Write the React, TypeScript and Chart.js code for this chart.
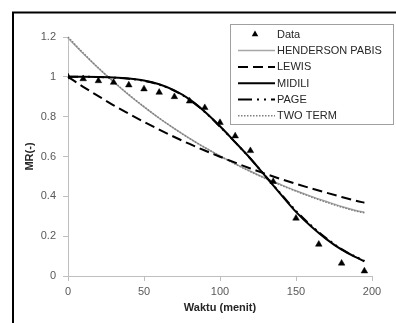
import React, { useEffect, useRef } from "react";
import { Chart, registerables } from "chart.js";

Chart.register(...registerables);

// Observed data
const dataT = [0, 10, 20, 30, 40, 50, 60, 70, 80, 90, 100, 110, 120, 135, 150, 165, 180, 195];
const dataMR = [1.0, 0.99, 0.98, 0.972, 0.959, 0.939, 0.922, 0.9, 0.878, 0.845, 0.77, 0.703, 0.629, 0.474, 0.29, 0.159, 0.064, 0.025];

// Model curves
const modelT = [0, 10, 20, 30, 40, 50, 60, 70, 80, 90, 100, 110, 120, 130, 140, 150, 160, 170, 180, 190, 195];
const hendersonPabis = [1.195, 1.117, 1.043, 0.974, 0.909, 0.849, 0.792, 0.74, 0.691, 0.645, 0.603, 0.563, 0.526, 0.491, 0.459, 0.428, 0.4, 0.374, 0.349, 0.328, 0.32];
const lewis = [1.0, 0.95, 0.903, 0.857, 0.815, 0.774, 0.735, 0.698, 0.663, 0.63, 0.599, 0.569, 0.54, 0.513, 0.487, 0.463, 0.44, 0.418, 0.397, 0.377, 0.368];
const midili = [1.0, 1.0, 0.999, 0.997, 0.992, 0.982, 0.963, 0.932, 0.887, 0.825, 0.752, 0.672, 0.59, 0.5, 0.41, 0.322, 0.248, 0.185, 0.132, 0.092, 0.074];
const page = [1.0, 1.0, 0.999, 0.996, 0.99, 0.98, 0.961, 0.93, 0.885, 0.824, 0.75, 0.671, 0.589, 0.501, 0.413, 0.327, 0.253, 0.189, 0.135, 0.094, 0.076];
const twoTerm = [1.2, 1.12, 1.045, 0.976, 0.911, 0.85, 0.793, 0.74, 0.69, 0.645, 0.602, 0.562, 0.524, 0.489, 0.456, 0.426, 0.397, 0.37, 0.346, 0.325, 0.318];

const xTicks = [0, 50, 100, 150, 200];
const yTicks = [0, 0.2, 0.4, 0.6, 0.8, 1, 1.2];

const legendLabels = ["Data", "HENDERSON PABIS", "LEWIS", "MIDILI", "PAGE", "TWO TERM"];

const FONT = "'Liberation Sans', Arial, sans-serif";

const pts = (xs: number[], ys: number[]) => xs.map((x, i) => ({ x, y: ys[i] }));

const styles = {
  data: { color: "#000000" },
  henderson: { color: "#a6a6a6", width: 1.5, dash: [] as number[] },
  lewis: { color: "#000000", width: 2, dash: [10, 5] },
  midili: { color: "#000000", width: 2, dash: [] as number[] },
  page: { color: "#000000", width: 2, dash: [10, 4, 2, 4, 2, 4] },
  twoTerm: { color: "#7f7f7f", width: 1.5, dash: [1.5, 1.5] },
};

const framePlugin = {
  id: "frame",
  afterDraw(chart: any) {
    const ctx = chart.ctx;
    ctx.save();
    ctx.strokeStyle = "#000";
    ctx.lineWidth = 2;
    ctx.beginPath();
    ctx.moveTo(13, 400);
    ctx.lineTo(13, 12.5);
    ctx.lineTo(400, 12.5);
    ctx.stroke();
    ctx.restore();
  },
};

const legendPlugin = {
  id: "customLegend",
  afterDraw(chart: any) {
    const ctx = chart.ctx;
    ctx.save();
    const bx = 230.5, by = 24.5, bw = 163, bh = 100;
    ctx.fillStyle = "#fff";
    ctx.fillRect(bx, by, bw, bh);
    ctx.strokeStyle = "#a0a0a0";
    ctx.lineWidth = 1;
    ctx.setLineDash([]);
    ctx.strokeRect(bx, by, bw, bh);
    const items = [
      { kind: "point" },
      { kind: "line", s: styles.henderson },
      { kind: "line", s: styles.lewis },
      { kind: "line", s: styles.midili },
      { kind: "line", s: { ...styles.page, dash: [14, 5, 2, 5, 2, 5] } },
      { kind: "line", s: styles.twoTerm },
    ];
    const x0 = 238, x1 = 275;
    items.forEach((it: any, i: number) => {
      const y = 34.3 + i * 16.3;
      if (it.kind === "point") {
        ctx.fillStyle = "#000";
        ctx.beginPath();
        const cx = 255, r = 3.8;
        ctx.moveTo(cx, y - r);
        ctx.lineTo(cx + r * 0.866, y + r * 0.5);
        ctx.lineTo(cx - r * 0.866, y + r * 0.5);
        ctx.closePath();
        ctx.fill();
      } else {
        ctx.strokeStyle = it.s.color;
        ctx.lineWidth = it.s.width;
        ctx.setLineDash(it.s.dash);
        ctx.beginPath();
        ctx.moveTo(x0, y);
        ctx.lineTo(x1, y);
        ctx.stroke();
        ctx.setLineDash([]);
      }
      ctx.fillStyle = "#262626";
      ctx.font = `11px ${FONT}`;
      ctx.textBaseline = "middle";
      ctx.textAlign = "left";
      ctx.fillText(legendLabels[i], 277, y + 0.5);
    });
    ctx.restore();
  },
};

export default function App() {
  const ref = useRef<HTMLCanvasElement | null>(null);

  useEffect(() => {
    if (!ref.current) return;
    const lineDs = (label: string, ys: number[], s: any) => ({
      label,
      data: pts(modelT, ys),
      showLine: true,
      borderColor: s.color,
      backgroundColor: s.color,
      borderWidth: s.width,
      borderDash: s.dash,
      pointRadius: 0,
      cubicInterpolationMode: "monotone" as const,
      clip: false as any,
    });
    const chart = new Chart(ref.current, {
      type: "scatter",
      data: {
        datasets: [
          {
            label: legendLabels[0],
            data: pts(dataT, dataMR),
            pointStyle: "triangle",
            pointRadius: 3.8,
            pointBorderWidth: 0.5,
            pointBackgroundColor: "#000",
            pointBorderColor: "#000",
            showLine: false,
          } as any,
          lineDs(legendLabels[3], midili, styles.midili),
          lineDs(legendLabels[4], page, styles.page),
          lineDs(legendLabels[2], lewis, styles.lewis),
          lineDs(legendLabels[5], twoTerm, styles.twoTerm),
          lineDs(legendLabels[1], hendersonPabis, styles.henderson),
        ],
      },
      options: {
        responsive: false,
        animation: false,
        devicePixelRatio: 1,
        layout: { padding: { left: 0, top: 37, right: 24, bottom: 0 } },
        plugins: {
          legend: { display: false },
          tooltip: { enabled: false },
        },
        scales: {
          x: {
            type: "linear",
            min: 0,
            max: 200,
            afterBuildTicks: (scale: any) => {
              scale.ticks = xTicks.map((v) => ({ value: v }));
            },
            afterFit: (scale: any) => {
              scale.height = 47;
            },
            ticks: {
              color: "#595959",
              font: { family: FONT, size: 11 },
              padding: 4,
              maxRotation: 0,
              callback: (v: any) => String(v),
            },
            grid: {
              drawOnChartArea: false,
              drawTicks: true,
              tickLength: 5,
              color: "#bfbfbf",
            },
            border: { color: "#bfbfbf", width: 1 },
            title: {
              display: true,
              text: "Waktu (menit)",
              color: "#262626",
              font: { family: FONT, size: 11, weight: "bold" },
              padding: { top: 0, bottom: 8 },
            },
          },
          y: {
            type: "linear",
            min: 0,
            max: 1.2,
            afterBuildTicks: (scale: any) => {
              scale.ticks = yTicks.map((v) => ({ value: v }));
            },
            afterFit: (scale: any) => {
              scale.width = 68;
            },
            ticks: {
              color: "#595959",
              font: { family: FONT, size: 11 },
              padding: 7,
              callback: (v: any) => String(Math.round(Number(v) * 10) / 10),
            },
            grid: {
              drawOnChartArea: false,
              drawTicks: true,
              tickLength: 5,
              color: "#bfbfbf",
            },
            border: { color: "#bfbfbf", width: 1 },
            title: {
              display: true,
              text: "MR(-)",
              color: "#262626",
              font: { family: FONT, size: 11, weight: "bold" },
              padding: { top: 23, bottom: 0 },
            },
          },
        },
      } as any,
      plugins: [legendPlugin, framePlugin],
    });
    return () => chart.destroy();
  }, []);

  return (
    <div style={{ position: "absolute", left: 0, top: 0, width: 396, height: 323, background: "#fff" }}>
      <canvas ref={ref} width={396} height={323} style={{ display: "block", width: 396, height: 323 }} />
    </div>
  );
}
